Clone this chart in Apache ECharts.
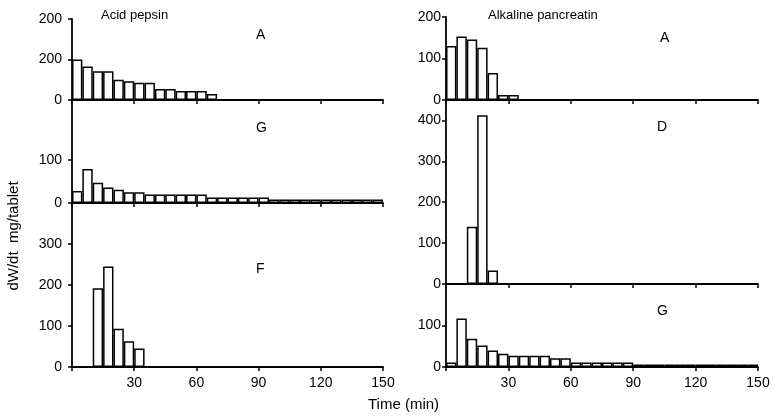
<!DOCTYPE html>
<html><head><meta charset="utf-8">
<script src="https://cdn.jsdelivr.net/npm/echarts@6/dist/echarts.min.js"></script>
<style>html,body{margin:0;padding:0;background:#fff}#c{width:773px;height:416px}</style>
</head><body><div id="c"></div>
<script>
// 5-minute time bins (start, min)
const binStart = [0,5,10,15,20,25,30,35,40,45,50,55,60,65,70,75,80,85,90,95,100,105,110,115,120,125,130,135,140,145];
const binWidth = 5;

// Acid pepsin
const acidA = [200,165,142,142,100,93,85,85,54,54,45,45,45,30,null,null,null,null,null,null,null,null,null,null,null,null,null,null,null,null];
const acidG = [28,79,47,36,31,25,25,20,20,20,20,20,20,13,13,13,13,13,13,8,8,8,8,8,8,8,8,8,8,8];
const acidF = [null,null,192,245,93,63,45,null,null,null,null,null,null,null,null,null,null,null,null,null,null,null,null,null,null,null,null,null,null,null];
// Alkaline pancreatin
const alkA = [130,153,146,126,65,12,12,null,null,null,null,null,null,null,null,null,null,null,null,null,null,null,null,null,null,null,null,null,null,null];
const alkD = [null,null,140,413,33,null,null,null,null,null,null,null,null,null,null,null,null,null,null,null,null,null,null,null,null,null,null,null,null,null];
const alkG = [11,117,68,52,40,32,27,27,27,27,21,21,11,11,11,11,11,11,6,6,6,6,6,6,6,6,6,6,6,6];

// tick values and labels
const acidATicks = [0,200,400], acidATickLabels = ['0','200','200'];
const acidGTicks = [0,100], acidGTickLabels = ['0','100'];
const acidFTicks = [0,100,200,300], acidFTickLabels = ['0','100','200','300'];
const alkATicks = [0,100,200], alkATickLabels = ['0','100','200'];
const alkDTicks = [0,100,200,300,400], alkDTickLabels = ['0','100','200','300','400'];
const alkGTicks = [0,100], alkGTickLabels = ['0','100'];
const timeMin = 0, timeMax = 150, timeStep = 30;

const panels = [
  {vals: acidA, max: 400, ticks: acidATicks, labels: acidATickLabels, grid: {left:72, width:311, top:19, height:81}, xLab:false, letter:'A', lx:262, ly:36, lm:10},
  {vals: acidG, max: 240, ticks: acidGTicks, labels: acidGTickLabels, grid: {left:72, width:311, top:100, height:103}, xLab:false, letter:'G', lx:262, ly:129, lm:10},
  {vals: acidF, max: 400, ticks: acidFTicks, labels: acidFTickLabels, grid: {left:72, width:311, top:203, height:164}, xLab:true, letter:'F', lx:262, ly:270, lm:10},
  {vals: alkA, max: 200, ticks: alkATicks, labels: alkATickLabels, grid: {left:446, width:312, top:17, height:83}, xLab:false, letter:'A', lx:666, ly:39, lm:5},
  {vals: alkD, max: 450, ticks: alkDTicks, labels: alkDTickLabels, grid: {left:446, width:312, top:100, height:184}, xLab:false, letter:'D', lx:663, ly:128, lm:5},
  {vals: alkG, max: 200, ticks: alkGTicks, labels: alkGTickLabels, grid: {left:446, width:312, top:284, height:83}, xLab:true, letter:'G', lx:663, ly:312, lm:5}
];

const ink = '#000';
const font = 'Liberation Sans, Arial, sans-serif';
const grids = [], xAxes = [], yAxes = [], series = [], graphics = [];
panels.forEach((p, i) => {
  grids.push(Object.assign({containLabel:false}, p.grid));
  xAxes.push({
    type:'value', gridIndex:i, min:timeMin, max:timeMax, interval:timeStep,
    axisLine:{show:true, onZero:false, lineStyle:{color:ink, width:1.8}},
    axisTick:{show:true, length:4, lineStyle:{color:ink, width:1.5}},
    splitLine:{show:false},
    axisLabel:{show:p.xLab, color:ink, fontSize:14, fontFamily:font, margin:9,
      formatter: v => v === 0 ? '' : String(v)}
  });
  yAxes.push({
    type:'value', gridIndex:i, min:0, max:p.max,
    axisLine:{show:true, lineStyle:{color:ink, width:1.8}},
    axisTick:{show:true, length:4, customValues:p.ticks, lineStyle:{color:ink, width:1.5}},
    splitLine:{show:false},
    axisLabel:{color:ink, fontSize:14, fontFamily:font, margin:p.lm, customValues:p.ticks,
      formatter: v => { const k = p.ticks.indexOf(v); return k >= 0 ? p.labels[k] : ''; }}
  });
  series.push({
    type:'bar', xAxisIndex:i, yAxisIndex:i, barWidth:'100%',
    data: binStart.map((t, k) => p.vals[k] == null ? null : [t + binWidth/2, p.vals[k]]).filter(d => d),
    itemStyle:{color:'#fff', borderColor:ink, borderWidth:1.5},
    emphasis:{disabled:true}, silent:true, animation:false
  });
  graphics.push({type:'text', left:p.lx - 6, top:p.ly - 8, style:{text:p.letter, fill:ink, font:'14px ' + font}});
});

graphics.push({type:'text', left:101, top:9, style:{text:'Acid pepsin', fill:ink, font:'13px ' + font}});
graphics.push({type:'text', left:488, top:9, style:{text:'Alkaline pancreatin', fill:ink, font:'13px ' + font}});
graphics.push({type:'text', left:368, top:397, style:{text:'Time (min)', fill:ink, font:'15px ' + font}});
graphics.push({type:'text', x:14, y:236, rotation:Math.PI/2, style:{text:'dW/dt  mg/tablet', fill:ink, font:'15px ' + font, align:'center', verticalAlign:'middle'}});

const chart = echarts.init(document.getElementById('c'), null, {renderer:'canvas'});
chart.setOption({animation:false, backgroundColor:'#fff', grid:grids, xAxis:xAxes, yAxis:yAxes, series:series, graphic:graphics});
</script></body></html>
